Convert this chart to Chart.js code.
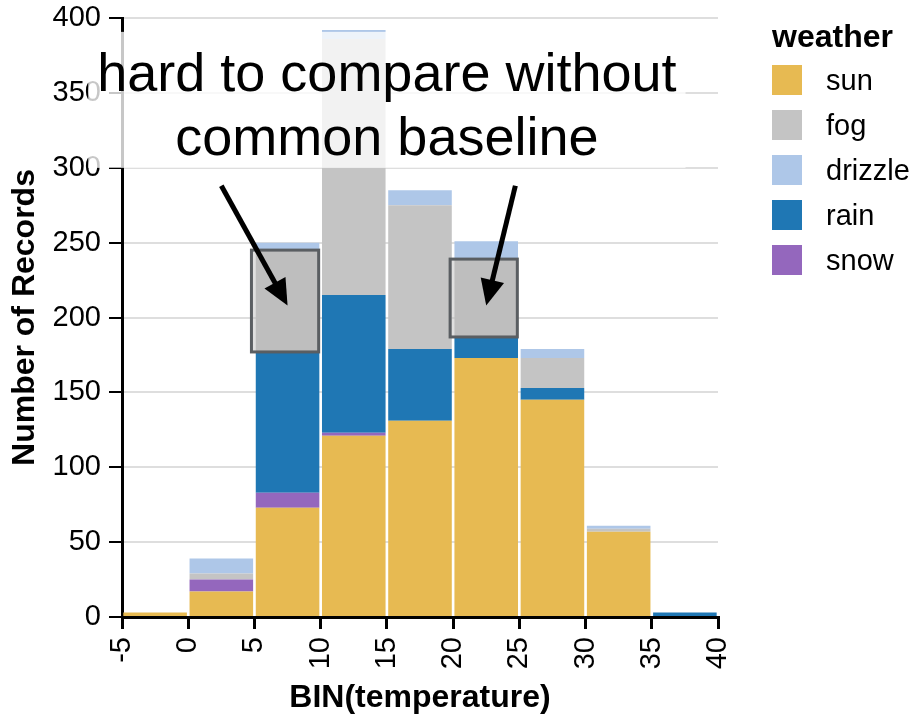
<!DOCTYPE html>
<html>
<head>
<meta charset="utf-8">
<script src="https://cdn.jsdelivr.net/npm/chart.js@4.4.0/dist/chart.umd.min.js"></script>
<style>
html,body{margin:0;padding:0;background:#fff;}
#wrap{position:relative;width:924px;height:717px;font-family:"Liberation Sans",Arial,Helvetica,sans-serif;}
#c{position:absolute;left:0;top:0;}
#legend{position:absolute;left:772px;top:0;width:150px;}
#legend .ttl{position:absolute;left:0;top:20px;font-weight:bold;font-size:32px;line-height:32px;color:#000;white-space:nowrap;}
#legend .item{position:absolute;left:0;height:30px;display:flex;align-items:center;white-space:nowrap;}
#legend .sw{width:30px;height:30px;box-sizing:border-box;}
#legend .lb{margin-left:24px;font-size:29px;color:#000;line-height:30px;}
</style>
</head>
<body>
<div id="wrap">
<canvas id="c" width="924" height="717"></canvas>
<div id="legend"></div>
</div>
<script>
// ---- data ----
const binStarts = [-5, 0, 5, 10, 15, 20, 25, 30, 35];
const binWidth = 5;
const sun     = [3, 17, 73, 121, 131, 173, 145, 57, 0];
const snow    = [0, 8, 10, 2, 0, 0, 0, 0, 0];
const rain    = [0, 0, 94, 92, 48, 14, 8, 0, 3];
const fog     = [0, 4, 68, 171, 96, 52, 20, 2, 0];
const drizzle = [0, 10, 5, 6, 10, 12, 6, 2, 0];
const xTickValues = [-5, 0, 5, 10, 15, 20, 25, 30, 35, 40];
const yTickValues = [0, 50, 100, 150, 200, 250, 300, 350, 400];
const legendOrder = ['sun', 'fog', 'drizzle', 'rain', 'snow'];
const seriesColors = {sun:'#e7ba52', fog:'#c4c4c4', drizzle:'#aec7e8', rain:'#1f77b4', snow:'#9467bd'};
const seriesValues = {sun, snow, rain, fog, drizzle};
const stackOrder = ['sun', 'snow', 'rain', 'fog', 'drizzle']; // bottom -> top
const highlightBins = [5, 20];
const noteLines = ['hard to compare without', 'common baseline'];
const arrows = [ {from:[2.5, 288], to:[7.5, 208]}, {from:[24.7, 288], to:[22.5, 208]} ];

const FONT = '"Liberation Sans", Arial, Helvetica, sans-serif';

const datasets = stackOrder.map(name => ({
  label: name,
  data: binStarts.map((b, i) => ({x: b + binWidth / 2, y: seriesValues[name][i]})),
  backgroundColor: seriesColors[name],
  borderWidth: 0,
  categoryPercentage: 1,
  barPercentage: 0.96
}));

const annot = {
  id: 'annot',
  afterDraw(chart) {
    const {ctx, scales: {x, y}} = chart;
    ctx.save();
    // fog highlight boxes
    highlightBins.forEach(b => {
      const i = binStarts.indexOf(b);
      const lo = sun[i] + snow[i] + rain[i];
      const hi = lo + fog[i];
      const l = x.getPixelForValue(b) - 3, r = x.getPixelForValue(b + binWidth) - 2;
      const t = y.getPixelForValue(hi), btm = y.getPixelForValue(lo);
      ctx.fillStyle = 'rgba(185,185,185,0.45)';
      ctx.fillRect(l, t, r - l, btm - t);
      ctx.strokeStyle = '#5a5e62';
      ctx.lineWidth = 3;
      ctx.strokeRect(l, t, r - l, btm - t);
    });
    // arrows
    arrows.forEach(a => {
      const x0 = x.getPixelForValue(a.from[0]), y0 = y.getPixelForValue(a.from[1]);
      const x1 = x.getPixelForValue(a.to[0]), y1 = y.getPixelForValue(a.to[1]);
      const dx = x1 - x0, dy = y1 - y0, len = Math.hypot(dx, dy);
      const ux = dx / len, uy = dy / len;
      const head = 26, half = 12;
      const bx = x1 - ux * head, by = y1 - uy * head;
      ctx.strokeStyle = '#000'; ctx.lineWidth = 5; ctx.lineCap = 'butt';
      ctx.beginPath(); ctx.moveTo(x0, y0); ctx.lineTo(bx + ux * 2, by + uy * 2); ctx.stroke();
      ctx.fillStyle = '#000';
      ctx.beginPath();
      ctx.moveTo(x1, y1);
      ctx.lineTo(bx - uy * half, by + ux * half);
      ctx.lineTo(bx + uy * half, by - ux * half);
      ctx.closePath(); ctx.fill();
    });
    // note with translucent background
    ctx.font = '54px ' + FONT;
    const cx = x.getPixelForValue(15);
    const base1 = y.getPixelForValue(350) - 2;
    const lh = 64;
    const w = Math.max(...noteLines.map(s => ctx.measureText(s).width));
    const top = base1 - 59, bottom = base1 + lh * (noteLines.length - 1) + 13;
    ctx.fillStyle = 'rgba(255,255,255,0.78)';
    ctx.fillRect(cx - w / 2 - 9, top, w + 18, bottom - top);
    ctx.fillStyle = '#000';
    ctx.textAlign = 'center';
    ctx.textBaseline = 'alphabetic';
    noteLines.forEach((s, k) => ctx.fillText(s, cx, base1 + k * lh));
    ctx.restore();
  }
};

new Chart(document.getElementById('c'), {
  type: 'bar',
  data: { datasets },
  plugins: [annot],
  options: {
    responsive: false,
    animation: false,
    devicePixelRatio: 1,
    layout: { padding: { top: 18, right: 206, left: 0, bottom: 0 } },
    plugins: { legend: { display: false }, tooltip: { enabled: false } },
    scales: {
      x: {
        type: 'linear', stacked: true, offset: false,
        min: -5, max: 40,
        afterBuildTicks: s => { s.ticks = xTickValues.map(v => ({value: v})); },
        afterFit: s => { s.height = 100; },
        grid: { drawOnChartArea: false, offset: false, tickColor: '#000', tickLength: 12, lineWidth: 3 },
        border: { color: '#000', width: 3 },
        ticks: { autoSkip: false, minRotation: 90, maxRotation: 90, padding: 8, color: '#000',
                 font: { family: FONT, size: 29 } },
        title: { display: true, text: 'BIN(temperature)', color: '#000', padding: 0,
                 font: { family: FONT, size: 32, weight: 'bold' } }
      },
      y: {
        stacked: true, min: 0, max: 400,
        afterBuildTicks: s => { s.ticks = yTickValues.map(v => ({value: v})); },
        afterFit: s => { s.width = 122; s.paddingTop = 0; s.paddingBottom = 0; },
        grid: { color: '#dedede', lineWidth: 2, tickColor: '#000', tickLength: 13 },
        border: { color: '#000', width: 3 },
        ticks: { padding: 8, color: '#000', font: { family: FONT, size: 29 } },
        title: { display: true, text: 'Number of Records', color: '#000', padding: { top: 6, bottom: 0 },
                 font: { family: FONT, size: 32, weight: 'bold' } }
      }
    }
  }
});

// legend (HTML, built from the series arrays)
const lg = document.getElementById('legend');
const t = document.createElement('div'); t.className = 'ttl'; t.textContent = 'weather'; lg.appendChild(t);
legendOrder.forEach((name, i) => {
  const it = document.createElement('div'); it.className = 'item'; it.style.top = (65 + i * 45) + 'px';
  const sw = document.createElement('div'); sw.className = 'sw'; sw.style.background = seriesColors[name];
  const lb = document.createElement('span'); lb.className = 'lb'; lb.textContent = name;
  it.appendChild(sw); it.appendChild(lb); lg.appendChild(it);
});
</script>
</body>
</html>
